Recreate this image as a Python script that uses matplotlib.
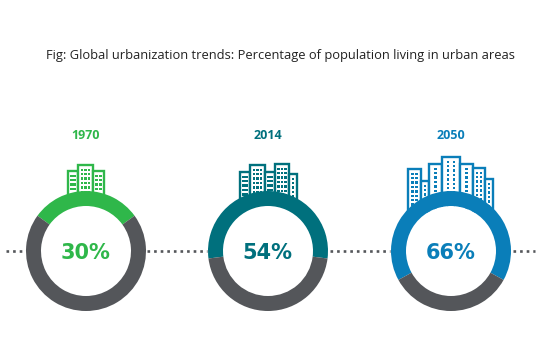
import matplotlib
matplotlib.use("Agg")
import matplotlib.pyplot as plt
from matplotlib.patches import Circle, Rectangle

# data
years = ["1970", "2014", "2050"]
urban_share = [30, 54, 66]
title = "Fig: Global urbanization trends: Percentage of population living in urban areas"

# layout, in pixels of the 540x360 picture
centers_x = [86, 268, 451]
center_y = 251
ring_radius = 60
ring_width = 15
colors = ["#2fb74a", "#00707d", "#0a7eb9"]
gray = "#54565a"

# skyline icons: (left, right, top, columns)
skylines = [
    [(68, 78, 171, 2), (78, 93, 165, 3), (93, 104, 171, 2)],
    [(240, 250, 172, 2), (250, 265, 165, 3), (265, 275, 172, 2),
     (275, 289, 164, 3), (289, 297, 174, 1)],
    [(408, 421, 169, 2), (421, 429, 181, 1), (429, 442, 164, 1),
     (442, 460, 157, 2), (460, 473, 164, 1), (473, 485, 168, 2),
     (485, 493, 179, 1)],
]
skyline_bottom = [196, 200, 212]

dot_segments = [(6, 26), (147, 207), (330, 390), (513, 535)]

fig = plt.figure(figsize=(5.4, 3.6), dpi=100, facecolor="white")
ax = fig.add_axes([0, 0, 1, 1])


def draw_building(left, right, top, cols, bottom, color):
    ax.add_patch(Rectangle((left, top), right - left, bottom - top, facecolor="white",
                           edgecolor=color, linewidth=1.7, zorder=2))
    # windows
    w = right - left
    step_x = w / (cols + 1)
    if w < 16 and cols == 3:
        step_x = 3.6
    mid = (left + right) / 2
    y = top + 3.5
    while y < bottom - 4:
        for c in range(cols):
            x = mid + (c - (cols - 1) / 2) * step_x
            ax.add_patch(Rectangle((x - 1.2, y), 2.4, 2.4, color=color, linewidth=0, zorder=3))
        y += 4.4


for i in range(len(years)):
    for left, right, top, cols in skylines[i]:
        draw_building(left, right, top, cols, skyline_bottom[i], colors[i])

    # hide what is left of the buildings inside the ring
    ax.add_patch(Circle((centers_x[i], center_y), ring_radius - ring_width,
                        facecolor="white", edgecolor="none", zorder=4))

    # y axis is flipped below, so 270 degrees is the top of the ring
    ax.pie([urban_share[i], 100 - urban_share[i]],
           colors=[colors[i], gray],
           startangle=270 - urban_share[i] * 3.6 / 2,
           center=(centers_x[i], center_y),
           radius=ring_radius,
           wedgeprops={"width": ring_width, "linewidth": 0, "zorder": 5})

    ax.text(centers_x[i], 135.5, years[i], color=colors[i], fontsize=9, fontweight="bold",
            family="Open Sans", ha="center", va="center")
    ax.text(centers_x[i] - 0.5, 253, f"{urban_share[i]}%", color=colors[i], fontsize=15,
            fontweight="bold", family="DejaVu Sans", ha="center", va="center", zorder=6)

for x0, x1 in dot_segments:
    ax.plot([x0, x1], [center_y, center_y], color=gray, linewidth=1.9,
            linestyle=(0, (1, 1.5)), dash_capstyle="butt", zorder=1)

ax.text(280, 55, title, color="#222222", fontsize=9.25, family="Open Sans",
        ha="center", va="center")

ax.set_xlim(0, 540)
ax.set_ylim(360, 0)
ax.set_aspect("auto")
ax.axis("off")

fig.savefig("out.png", dpi=100)
